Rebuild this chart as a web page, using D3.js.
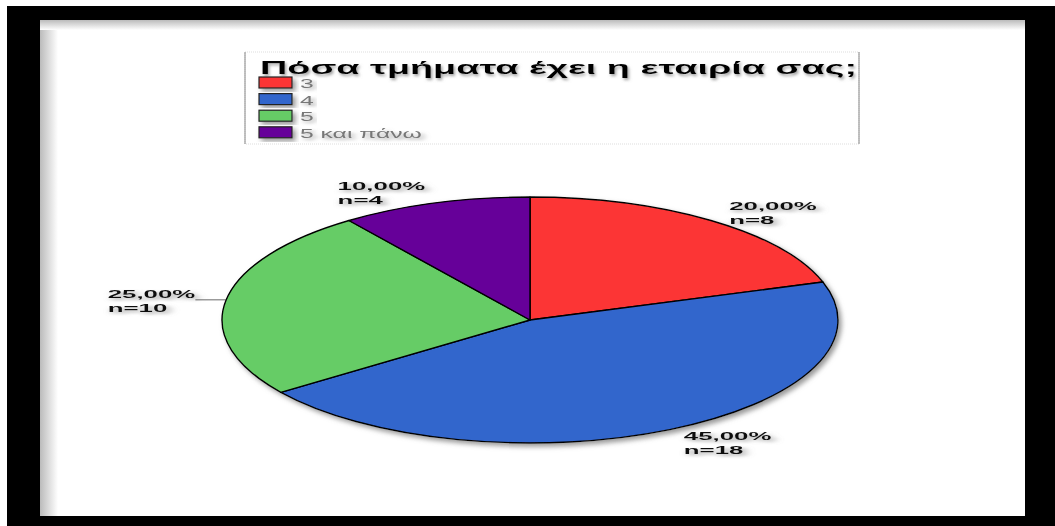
<!DOCTYPE html>
<html>
<head>
<meta charset="utf-8">
<script src="https://cdnjs.cloudflare.com/ajax/libs/d3/7.8.5/d3.min.js"></script>
<style>
  html, body { margin: 0; padding: 0; background: #000; overflow: hidden; }
  svg { display: block; }
  text { font-family: "Liberation Sans", Arial, sans-serif; }
</style>
</head>
<body>
<div id="chart"></div>
<script>
// chart data
var legendTitle = "Πόσα τμήματα έχει η εταιρία σας;";
var categories = ["3", "4", "5", "5 και πάνω"];
var counts = [8, 18, 10, 4];
var colors = ["#fc3535", "#3366cc", "#66cc66", "#660099"];

var W = 1055, H = 526;
var cx = 530, cy = 320, rx = 308, ry = 123;
var stretch = 2.35; // the picture is stretched horizontally

var locale = d3.formatLocale({ decimal: ",", thousands: ".", grouping: [3], currency: ["", "€"] });
var fmtPct = locale.format(".2%");
var total = d3.sum(counts);

var svg = d3.select("#chart").append("svg")
      .attr("width", W)
      .attr("height", H);

var defs = svg.append("defs");

// soft shadow used for pie and texts
var sh = defs.append("filter").attr("id", "shadow")
      .attr("x", "-20%").attr("y", "-20%").attr("width", "140%").attr("height", "150%");
sh.append("feDropShadow")
      .attr("dx", 3).attr("dy", 3).attr("stdDeviation", 2.5)
      .attr("flood-color", "#777").attr("flood-opacity", 0.75);

var tsh = defs.append("filter").attr("id", "tshadow")
      .attr("x", "-10%").attr("y", "-40%").attr("width", "130%").attr("height", "190%");
tsh.append("feDropShadow")
      .attr("dx", 1.5).attr("dy", 2).attr("stdDeviation", 1.8)
      .attr("flood-color", "#888").attr("flood-opacity", 0.8);

var gl = defs.append("linearGradient").attr("id", "leftEdge")
      .attr("x1", 0).attr("x2", 1).attr("y1", 0).attr("y2", 0);
gl.append("stop").attr("offset", 0).attr("stop-color", "#bbb");
gl.append("stop").attr("offset", 1).attr("stop-color", "#fff");
var gt = defs.append("linearGradient").attr("id", "topEdge")
      .attr("x1", 0).attr("x2", 0).attr("y1", 0).attr("y2", 1);
gt.append("stop").attr("offset", 0).attr("stop-color", "#bbb");
gt.append("stop").attr("offset", 1).attr("stop-color", "#fff");

// frame
svg.append("rect").attr("x", 0).attr("y", 0).attr("width", W).attr("height", H).attr("fill", "#fff");
svg.append("rect").attr("x", 7).attr("y", 6).attr("width", W - 7).attr("height", H - 6).attr("fill", "#000");
svg.append("rect").attr("x", 40).attr("y", 20).attr("width", 985).attr("height", 496).attr("fill", "#fff");
svg.append("rect").attr("x", 40).attr("y", 20).attr("width", 18).attr("height", 496).attr("fill", "url(#leftEdge)");
svg.append("rect").attr("x", 40).attr("y", 20).attr("width", 985).attr("height", 10).attr("fill", "url(#topEdge)");

// legend
var legend = svg.append("g");
legend.append("rect")
      .attr("x", 245).attr("y", 52).attr("width", 614).attr("height", 92)
      .attr("fill", "none").attr("stroke", "#ddd").attr("stroke-dasharray", "1,1");
legend.append("line").attr("x1", 245).attr("x2", 245).attr("y1", 52).attr("y2", 144)
      .attr("stroke", "#888");
legend.append("line").attr("x1", 859).attr("x2", 859).attr("y1", 52).attr("y2", 144)
      .attr("stroke", "#888");

legend.append("text")
      .attr("x", 260).attr("y", 74)
      .attr("textLength", 597).attr("lengthAdjust", "spacingAndGlyphs")
      .attr("filter", "url(#tshadow)")
      .style("font-size", "17.5px").style("font-weight", "bold").style("fill", "#000")
      .text(legendTitle);

var rowY = d3.scaleLinear().domain([0, 1]).range([77, 93.6]);

var item = legend.selectAll("g.item")
      .data(categories)
      .enter().append("g")
      .attr("class", "item")
      .attr("transform", function (d, i) { return "translate(259," + rowY(i) + ")"; });

item.append("rect")
      .attr("width", 33).attr("height", 11)
      .attr("fill", function (d, i) { return colors[i]; })
      .attr("stroke", "#222").attr("stroke-width", 1.2)
      .attr("filter", "url(#shadow)");

item.append("g")
      .attr("transform", "translate(41,11) scale(" + 1.9 + ",1)")
      .append("text")
      .attr("filter", "url(#tshadow)")
      .style("font-size", "13px").style("fill", "#777")
      .text(function (d) { return d; });

// pie
var pie = d3.pie().sort(null).value(function (d) { return d; });
var arcs = pie(counts);
var arc = d3.arc().innerRadius(0).outerRadius(ry);

var pieG = svg.append("g").attr("filter", "url(#shadow)");
pieG.append("g")
      .attr("transform", "translate(" + cx + "," + cy + ") scale(" + (rx / ry) + ",1)")
      .selectAll("path")
      .data(arcs)
      .enter().append("path")
      .attr("d", arc)
      .attr("fill", function (d, i) { return colors[i]; })
      .attr("stroke", "#000")
      .attr("stroke-width", 1.4)
      .attr("stroke-linejoin", "round")
      .attr("vector-effect", "non-scaling-stroke");

// labels: placed just outside the ellipse at the middle angle of each slice
arcs.forEach(function (d, i) {
      var a = (d.startAngle + d.endAngle) / 2;
      var k = 1.1;
      var lx = cx + rx * k * Math.sin(a);
      var ly = cy - ry * k * Math.cos(a);
      var right = Math.sin(a) > 0;
      var g = svg.append("g")
            .attr("filter", "url(#tshadow)");
      var t = g.append("text")
            .style("font-size", "11px").style("font-weight", "bold").style("fill", "#111");
      var t1 = t.append("tspan").attr("x", 0).attr("y", -1).text(fmtPct(d.value / total));
      var t2 = t.append("tspan").attr("x", 0).attr("y", 13).text("n=" + d.value);
      var w = Math.max(t1.node().getComputedTextLength(), t2.node().getComputedTextLength()) * stretch;
      var x0 = right ? lx : lx - w;
      g.attr("transform", "translate(" + x0 + "," + ly + ") scale(" + stretch + ",1)");
      // labels near the side of the ellipse get a leader line
      if (Math.abs(Math.sin(a)) > 0.95) {
            var yy = ly + 1 - cy;
            var ex = cx + (right ? 1 : -1) * rx * Math.sqrt(1 - (yy * yy) / (ry * ry));
            svg.append("line")
                  .attr("x1", lx).attr("y1", ly + 1)
                  .attr("x2", ex).attr("y2", ly + 1)
                  .attr("stroke", "#444").attr("stroke-width", 0.8);
      }
});
</script>
</body>
</html>
